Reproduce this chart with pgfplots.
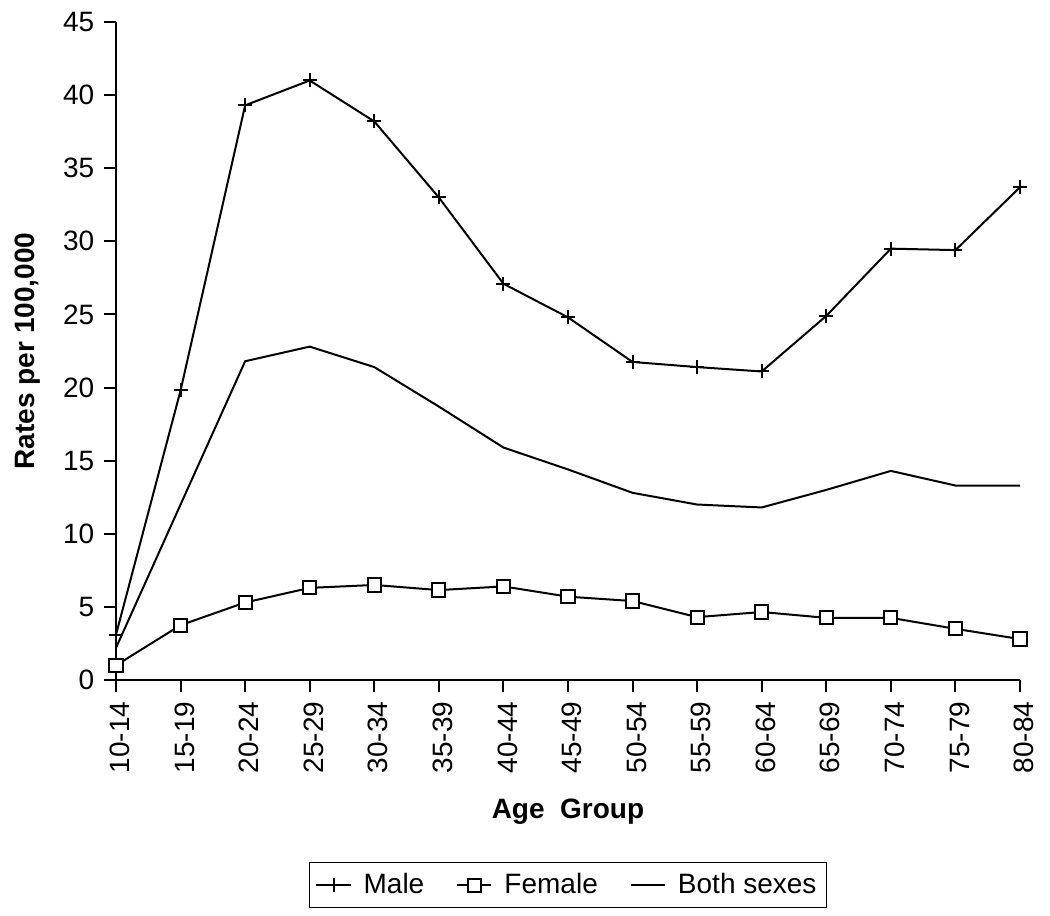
\documentclass[border=0pt]{standalone}
\usepackage{pgfplots}
\pgfplotsset{compat=1.18}
\usepackage{fontspec}
\setmainfont{Liberation Sans}
\begin{document}
\fontsize{14pt}{16pt}\selectfont
\begin{tikzpicture}
\begin{axis}[
  name=ax,
  scale only axis,
  width=452pt, height=329pt,
  xmin=0, xmax=14, ymin=0, ymax=45,
  axis lines=left,
  axis line style={-, line width=1pt},
  every tick/.style={black, line width=1pt},
  tick align=outside,
  major tick length=6pt,
  xtick={0,...,14},
  xticklabels={10-14,15-19,20-24,25-29,30-34,35-39,40-44,45-49,50-54,55-59,60-64,65-69,70-74,75-79,80-84},
  xticklabel style={rotate=90, anchor=east, yshift=-2pt},
  ytick={0,5,...,45},
  /pgf/number format/assume math mode=true,
  tick label style={font=\fontsize{14pt}{16pt}\selectfont},
  xlabel={\textbf{Age\ \ Group}},
  ylabel={\textbf{Rates per 100,000}},
  xlabel style={at={(axis description cs:0.5,-0.2)}, anchor=center, font=\fontsize{14pt}{16pt}\selectfont},
  ylabel style={at={(axis description cs:-0.098,0.5)}, anchor=center, rotate=0, font=\fontsize{14pt}{16pt}\selectfont},
  clip=false,
  legend columns=3,
  legend style={at={(0.5,-0.277)}, anchor=north, draw=black, line width=0.6pt,
    font=\fontsize{14pt}{16pt}\selectfont, column sep=4pt, inner ysep=3pt,
    /tikz/every even column/.append style={column sep=14pt}},
  legend cell align=left,
]
\addplot[black, line width=1pt, mark=+, mark size=3.5pt, mark options={line width=1pt}] coordinates {
(0,3.1) (1,19.8) (2,39.3) (3,41.0) (4,38.2) (5,33.0) (6,27.1) (7,24.8) (8,21.75) (9,21.4) (10,21.1) (11,24.9) (12,29.5) (13,29.4) (14,33.7)};
\addlegendentry{Male}
\addplot[black, line width=1pt, mark=square*, mark size=3.3pt, mark options={fill=white, line width=1pt}] coordinates {
(0,1.0) (1,3.75) (2,5.3) (3,6.3) (4,6.5) (5,6.15) (6,6.4) (7,5.7) (8,5.4) (9,4.3) (10,4.65) (11,4.25) (12,4.25) (13,3.5) (14,2.8)};
\addlegendentry{Female}
\addplot[black, line width=1pt] coordinates {
(0,2.2) (1,12.0) (2,21.8) (3,22.8) (4,21.4) (5,18.7) (6,15.9) (7,14.4) (8,12.8) (9,12.0) (10,11.8) (11,13.0) (12,14.3) (13,13.3) (14,13.3)};
\addlegendentry{Both sexes}
\end{axis}
\path ([xshift=-58pt,yshift=-118pt]ax.south west) rectangle ([xshift=15pt,yshift=11pt]ax.north east);
\end{tikzpicture}
\end{document}
